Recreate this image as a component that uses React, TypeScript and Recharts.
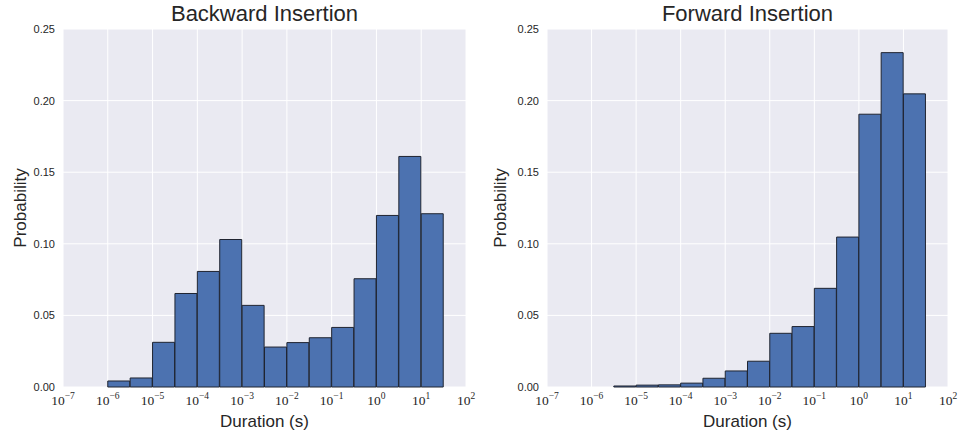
import { BarChart, Bar, XAxis, YAxis, CartesianGrid, Label } from "recharts"

// histogram bins: left edge of each bin, in log10(seconds)
const binEdges = [-7, -6.5, -6, -5.5, -5, -4.5, -4, -3.5, -3, -2.5, -2, -1.5, -1, -0.5, 0, 0.5, 1]
const binWidth = 0.5

const backwardProb = [
  0, 0, 0.0042, 0.0063, 0.0312, 0.0653, 0.0807, 0.103, 0.057, 0.0279, 0.031, 0.0344, 0.0416, 0.0756,
  0.1198, 0.161, 0.121,
]
const forwardProb = [
  0, 0, 0, 0.0007, 0.0013, 0.0015, 0.0027, 0.0061, 0.0112, 0.018, 0.0375, 0.0422, 0.0689, 0.1047,
  0.1905, 0.2335, 0.2047,
]

const decadeTicks = [-7, -6, -5, -4, -3, -2, -1, 0, 1, 2]
const probTicks = [0, 0.05, 0.1, 0.15, 0.2, 0.25]

const TEXT = "#262626"
const SANS = "'Liberation Sans', Arial, sans-serif"

const toRows = (probs: number[]) =>
  binEdges.map((edge, i) => ({ mid: edge + binWidth / 2, prob: probs[i] }))

const PowerTick = ({ x, y, payload }: any) => {
  const v = payload.value
  const exp = v < 0 ? `\u2212${-v}` : `${v}`
  return (
    <text x={x} y={y + 16} textAnchor="middle" fontFamily="'Liberation Serif', 'DejaVu Serif', serif" fontSize={13.5} fill={TEXT}>
      <tspan>10</tspan>
      <tspan dy={-6} fontSize={9.5}>{exp}</tspan>
    </text>
  )
}

type HistProps = {
  title: string
  probs: number[]
  width: number
  yAxisWidth: number
  rightMargin: number
}

function Histogram({ title, probs, width, yAxisWidth, rightMargin }: HistProps) {
  const plotLeft = yAxisWidth
  const plotRight = width - rightMargin
  return (
    <div style={{ position: "relative", width, height: 437 }}>
      <div
        style={{
          position: "absolute",
          top: 0,
          left: plotLeft,
          width: plotRight - plotLeft,
          textAlign: "center",
          fontFamily: SANS,
          fontSize: 22,
          lineHeight: "28px",
          color: TEXT,
        }}
      >
        {title}
      </div>
      <BarChart
        width={width}
        height={437}
        data={toRows(probs)}
        margin={{ top: 29, right: rightMargin, bottom: 0, left: 0 }}
        barCategoryGap={0}
        barGap={0}
      >
        <CartesianGrid fill="#EAEAF2" stroke="#ffffff" strokeWidth={1} />
        <XAxis
          dataKey="mid"
          type="number"
          domain={[-7, 2]}
          ticks={decadeTicks}
          interval={0}
          height={50}
          axisLine={false}
          tickLine={false}
          tickSize={0}
          tick={<PowerTick />}
        >
          <Label
            content={({ viewBox }: any) => (
              <text
                x={viewBox.x + viewBox.width / 2}
                y={viewBox.y + 40}
                textAnchor="middle"
                fontFamily={SANS}
                fontSize={17}
                fill={TEXT}
              >
                Duration (s)
              </text>
            )}
          />
        </XAxis>
        <YAxis
          type="number"
          domain={[0, 0.25]}
          ticks={probTicks}
          width={yAxisWidth}
          axisLine={false}
          tickLine={false}
          tickSize={0}
          tickMargin={8}
          tickFormatter={(v: number) => v.toFixed(2)}
          tick={{ fontFamily: SANS, fontSize: 11, fill: TEXT }}
        >
          <Label
            content={({ viewBox }: any) => {
              const cx = viewBox.x + 20
              const cy = viewBox.y + viewBox.height / 2
              return (
                <text
                  x={cx}
                  y={cy}
                  transform={`rotate(-90 ${cx} ${cy})`}
                  textAnchor="middle"
                  dominantBaseline="central"
                  fontFamily={SANS}
                  fontSize={17}
                  fill={TEXT}
                >
                  Probability
                </text>
              )
            }}
          />
        </YAxis>
        <YAxis
          yAxisId="mirror"
          orientation="right"
          type="number"
          domain={[0, 0.25]}
          ticks={probTicks}
          width={0}
          axisLine={false}
          tickSize={2}
          tickLine={{ stroke: "#333", strokeWidth: 1.5 }}
          tick={false}
        />
        <Bar
          dataKey="prob"
          fill="#4C72B0"
          stroke="#1f2430"
          strokeWidth={1}
          isAnimationActive={false}
        />
      </BarChart>
    </div>
  )
}

export default function App() {
  return (
    <div style={{ position: "absolute", left: 0, top: 0, width: 959, height: 437, background: "#fff" }}>
      <div style={{ position: "absolute", left: 0, top: 0 }}>
        <Histogram title="Backward Insertion" probs={backwardProb} width={480} yAxisWidth={63} rightMargin={14} />
      </div>
      <div style={{ position: "absolute", left: 480, top: 0 }}>
        <Histogram title="Forward Insertion" probs={forwardProb} width={479} yAxisWidth={67} rightMargin={11} />
      </div>
    </div>
  )
}
